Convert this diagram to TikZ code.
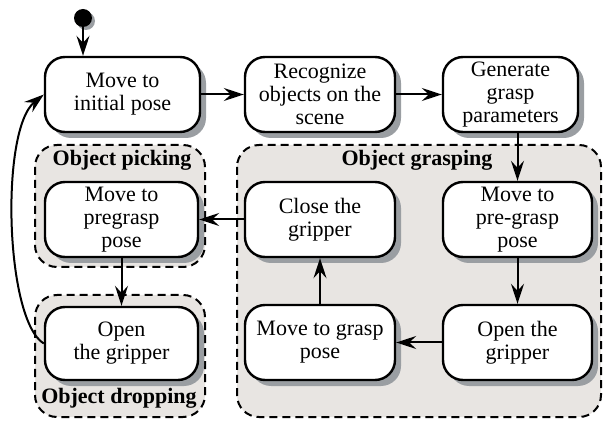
\documentclass[tikz,border=0pt]{standalone}
\usepackage{fontspec}
\setmainfont{Liberation Serif}
\usetikzlibrary{arrows.meta,shadows}

\definecolor{groupfill}{HTML}{E8E5E2}
\definecolor{shadowgray}{HTML}{9A9EA2}

\tikzset{
  state/.style={draw, line width=2.4pt, rounded corners=20pt, fill=white,
    align=center, minimum height=75pt, inner sep=2pt,
    font=\fontsize{22}{23}\selectfont,
    drop shadow={shadow xshift=6pt, shadow yshift=-6pt, fill=shadowgray, opacity=1}},
  startdot/.style={circle, fill=black, minimum size=18pt, inner sep=0pt,
    drop shadow={shadow xshift=3pt, shadow yshift=-3pt, fill=shadowgray, opacity=1}},
  groupbox/.style={draw, fill=groupfill, line width=2pt,
    dash pattern=on 8pt off 5pt, rounded corners=22pt},
  grouptitle/.style={font=\fontsize{22}{23}\selectfont\bfseries, inner sep=0pt},
  flow/.style={-{Stealth[length=20pt,width=13pt,inset=7pt]}, line width=2pt},
}

\begin{document}
\begin{tikzpicture}[x=1pt,y=-1pt]
\useasboundingbox (0,0) rectangle (603,422);

% sub-state groups
\draw[groupbox] (237,145) rectangle (601,417);
\draw[groupbox] (35,145) rectangle (205,267);
\draw[groupbox] (35,295) rectangle (205,417);
\node[grouptitle] (tgrasp) at (417,160) {Object grasping};
\node[grouptitle] (tpick) at (122,160) {Object picking};
\node[grouptitle] (tdrop) at (119,398) {Object dropping};

% states
\node[startdot] (start) at (83,18) {};
\node[state, minimum width=155pt] (init) at (122.5,94.5) {Move to\\initial pose};
\node[state, minimum width=150pt] (recog) at (320,94.5) {Recognize\\objects on the\\scene};
\node[state, minimum width=135pt] (gen) at (510.5,94.5) {Generate\\grasp\\parameters};
\node[state, minimum width=149pt] (pregr) at (517.5,219.5) {Move to\\pre-grasp\\pose};
\node[state, minimum width=149pt] (openg) at (517.5,342.5) {Open the\\gripper};
\node[state, minimum width=150pt] (grasp) at (320,342.5) {Move to grasp\\pose};
\node[state, minimum width=150pt] (close) at (320,219.5) {Close the\\gripper};
\node[state, minimum width=153pt] (pick) at (121.5,219.5) {Move to\\pregrasp\\pose};
\node[state, minimum width=153pt, minimum height=73pt] (drop) at (121.5,343.5) {Open\\the gripper};

% transitions
\draw[flow] (start) -- (start |- init.north);
\draw[flow] (init) -- (recog);
\draw[flow] (recog) -- (gen);
\draw[flow] (gen.south -| pregr.north) -- (pregr.north);
\draw[flow] (pregr) -- (openg);
\draw[flow] (openg) -- (grasp);
\draw[flow] (grasp) -- (close);
\draw[flow] (close) -- (pick);
\draw[flow] (pick) -- (drop);
\draw[flow] (drop.west) .. controls (5,320) and (0,130) .. (init.west);
\end{tikzpicture}
\end{document}
